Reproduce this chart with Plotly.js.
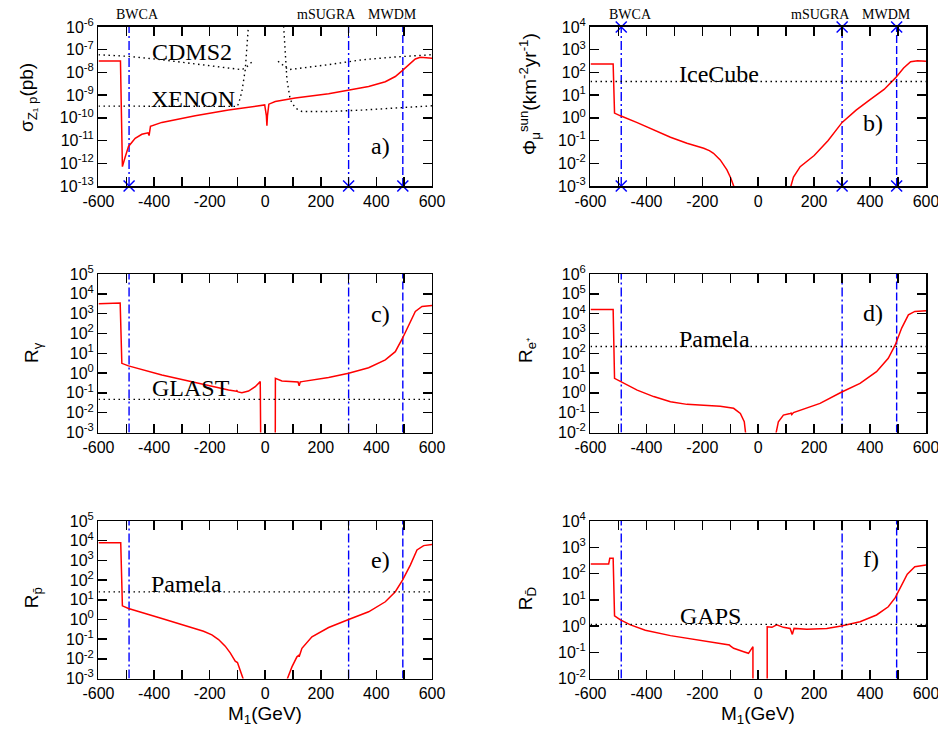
<!DOCTYPE html>
<html><head><meta charset="utf-8">
<script src="https://cdn.plot.ly/plotly-3.0.1.min.js"></script>
<style>html,body{margin:0;padding:0;background:#fff}#chart{width:938px;height:734px}</style>
</head><body><div id="chart"></div>
<script>
// ---------- data ----------
const xTickVals = [-600,-500,-400,-300,-200,-100,0,100,200,300,400,500,600];
const xTickText = ['-600','','-400','','-200','','0','','200','','400','','600'];

const benchX = [-490, 300, 495];
const benchNames = ['BWCA', 'mSUGRA', 'MWDM'];

// a) sigma_Z1p (pb)
const aX = [-600,-521,-514,-510,-504,-492,-468,-444,-422,-418,-413,-372,-252,-132,-12,-2,4,6,8,13,36,108,228,300,372,432,440,444,468,492,516,540,558,600];
const aY = [3.2e-8,3.2e-8,7.1e-13,1.1e-12,1.9e-12,5.5e-12,1.26e-11,1.9e-11,2.2e-11,1.66e-11,4.2e-11,6.3e-11,1.23e-10,2.2e-10,3.7e-10,3.7e-10,1.26e-10,4.5e-11,1.26e-10,4.0e-10,5.2e-10,7.4e-10,1.15e-9,1.62e-9,2.4e-9,3.9e-9,4.4e-9,5.0e-9,6.6e-9,1.17e-8,2.2e-8,3.9e-8,4.6e-8,4.2e-8];
const cdmsX = [-600,-492,-372,-252,-132,-84,-66,-45,null,46,84,228,348,468,600];
const cdmsY = [6.0e-8,5.1e-8,3.6e-8,2.3e-8,1.55e-8,1.32e-8,1.8e-8,3.1e-8,null,3.1e-8,1.32e-8,2.2e-8,3.6e-8,4.8e-8,6.0e-8];
const xenonX = [-600,-300,-100,-92,-84,-72,-66,-60,-58,null,64,66,72,78,90,108,132,228,348,468,600];
const xenonY = [3.3e-10,3.2e-10,3.2e-10,6.3e-10,1.45e-9,1.3e-8,1.4e-7,1.0e-6,3e-6,null,3e-6,1.0e-6,7.1e-8,4.8e-9,6.3e-10,2.7e-10,1.9e-10,1.9e-10,2.2e-10,2.7e-10,3.4e-10];

// b) muon flux from the sun
const bX = [-600,-519,-514,-493,-433,-374,-314,-255,-220,-195,-175,-160,-136,-112,-98,-88,-85,null,114,117,126,150,200,250,300,350,400,450,490,520,545,570,600];
const bY = [234,234,1.62,1.23,0.62,0.295,0.141,0.076,0.058,0.046,0.036,0.0275,0.0141,0.0051,0.0022,0.001,0.0005,null,0.0005,0.001,0.0025,0.0071,0.022,0.1,0.63,2.2,6.3,17.8,56,158,295,330,309];
const iceCube = 40;

// c) R_gamma
const cX = [-600,-530,-522,-516,-492,-372,-252,-132,-104,-102,-98,-84,-60,-36,-18,-16,null,36,36.5,60,108,118,122,126,132,228,300,372,432,468,494,516,540,564,600];
const cY = [3160,3160,3390,3.1,2.3,0.79,0.32,0.138,0.12,0.129,0.112,0.102,0.123,0.204,0.37,1e-4,null,1e-4,0.54,0.40,0.37,0.355,0.23,0.355,0.37,0.59,0.98,1.86,4.6,12,57.5,269,1290,2290,2570];
const glast = 0.047;

// d) R_e+
const dX = [-600,-519,-514,-493,-433,-374,-314,-255,-195,-136,-88,-64,-50,-44,-43,null,63,64,72,90,114,118,120,124,126,221,297,364,423,465,490,513,537,560,600];
const dY = [16200,16200,5.4,3.7,1.38,0.65,0.355,0.263,0.24,0.214,0.166,0.091,0.035,0.01,0.005,null,0.005,0.01,0.035,0.076,0.091,0.095,0.081,0.1,0.102,0.295,1.07,3.0,11.7,56,263,1860,8700,12900,13800];
const pamelaE = 220;

// e) R_pbar
const eX = [-600,-520,-514,-492,-372,-252,-222,-192,-168,-144,-126,-108,-100,-80,-78,null,78,80,96,114,120,122,124,132,168,228,300,372,432,468,494,522,546,570,600];
const eY = [7940,7940,4.9,3.6,1.12,0.347,0.25,0.166,0.095,0.044,0.02,0.0076,0.0065,0.001,0.0006,null,0.0006,0.001,0.0039,0.0126,0.0148,0.0126,0.0158,0.034,0.132,0.39,1.0,2.45,7.9,25.7,100,575,3390,5620,6460];
const pamelaP = 25;

// f) R_Dbar
const fX = [-600,-535,-531,-519,-514,-493,-457,-404,-314,-195,-106,-103,-100,-88,-52,-35,-23,-19,-19,null,32,32,49,66,90,114,122,128,174,245,297,364,423,465,490,513,533,560,600];
const fY = [229,229,380,380,2.45,1.7,1.1,0.69,0.43,0.27,0.2,0.19,0.174,0.141,0.105,0.091,0.141,0.162,0.001,null,0.001,0.93,0.89,1.1,0.89,0.81,0.48,0.81,0.76,0.81,1.0,1.45,2.63,5.4,12,36,95,182,209];
const gaps = 1.15;

// ---------- layout helpers ----------
const FS = 'Liberation Sans, Arial, Helvetica, sans-serif';
const FSERIF = 'Liberation Serif, Times New Roman, serif';
const colDom = [[0.10501, 0.46055], [0.62953, 0.98721]];
const rowDom = [[0.74659, 0.96322], [0.41076, 0.62670], [0.07561, 0.29019]];

const panels = [
  {x: aX, y: aY, exp: [-13, -6]},
  {x: bX, y: bY, exp: [-3, 4]},
  {x: cX, y: cY, exp: [-3, 5]},
  {x: dX, y: dY, exp: [-2, 6]},
  {x: eX, y: eY, exp: [-3, 5]},
  {x: fX, y: fY, exp: [-2, 4]}
];

const traces = [];
const layout = {
  width: 938, height: 734,
  margin: {l: 0, r: 0, t: 0, b: 0},
  paper_bgcolor: '#fff', plot_bgcolor: '#fff',
  showlegend: false,
  font: {family: FS, color: '#000'},
  annotations: []
};

function horiz(xa, ya, val) {
  traces.push({x: [-600, 600], y: [val, val], xaxis: xa, yaxis: ya, mode: 'lines',
    line: {color: '#000', width: 1.4, dash: '1.5px,3.5px'}, hoverinfo: 'skip'});
}

panels.forEach((p, i) => {
  const n = i + 1;
  const xa = 'x' + (n === 1 ? '' : n), ya = 'y' + (n === 1 ? '' : n);
  const col = i % 2, row = Math.floor(i / 2);
  const exps = [];
  for (let e = p.exp[0]; e <= p.exp[1]; e++) exps.push(e);
  const lo = Math.pow(10, p.exp[0]), hi = Math.pow(10, p.exp[1]);
  layout['xaxis' + (n === 1 ? '' : n)] = {
    domain: colDom[col], anchor: ya, range: [-600, 600],
    tickvals: xTickVals, ticktext: xTickText, ticklabeloverflow: 'allow',
    ticks: 'inside', ticklen: 9, tickwidth: 1.5, tickcolor: '#000',
    showline: true, linecolor: '#000', linewidth: 1.5, mirror: 'allticks',
    showgrid: false, zeroline: false,
    tickfont: {family: FS, size: 16, color: '#000'}
  };
  layout['yaxis' + (n === 1 ? '' : n)] = {
    domain: rowDom[row], anchor: xa, type: 'log', range: p.exp,
    tickvals: exps.map(e => Math.pow(10, e)),
    ticktext: exps.map(e => '10<sup>' + e + '</sup>'), ticklabeloverflow: 'allow',
    ticks: 'inside', ticklen: 9, tickwidth: 1.5, tickcolor: '#000',
    showline: true, linecolor: '#000', linewidth: 1.5, mirror: 'allticks',
    showgrid: false, zeroline: false,
    tickfont: {family: FS, size: 16, color: '#000'}
  };
  // benchmark vertical lines
  const dashes = ['9px,3px,2px,3px', '9px,3px,2px,3px', '8px,3px'];
  benchX.forEach((bx, k) => {
    traces.push({x: [bx, bx], y: [lo, hi], xaxis: xa, yaxis: ya, mode: 'lines',
      line: {color: '#0000ff', width: 1.4, dash: dashes[k]}, hoverinfo: 'skip'});
  });
  if (row === 0) {
    const mx = [], my = [];
    benchX.forEach(bx => { mx.push(bx, bx); my.push(lo, hi); });
    traces.push({x: mx, y: my, xaxis: xa, yaxis: ya, mode: 'markers', cliponaxis: false,
      marker: {symbol: 'x-thin-open', size: 11, color: '#0000ff', line: {color: '#0000ff', width: 1.5}},
      hoverinfo: 'skip'});
    benchNames.forEach((nm, k) => {
      layout.annotations.push({text: nm, xref: xa, yref: 'paper', x: [-458, 222, 457][k], y: 0.9796,
        showarrow: false, font: {family: FSERIF, size: 14, color: '#000'}, xanchor: 'center', yanchor: 'middle'});
    });
  }
  // main curve
  traces.push({x: p.x, y: p.y, xaxis: xa, yaxis: ya, mode: 'lines', connectgaps: false,
    line: {color: '#ff0000', width: 1.5}, hoverinfo: 'skip'});
});

// reference limits
traces.push({x: cdmsX, y: cdmsY, xaxis: 'x', yaxis: 'y', mode: 'lines', connectgaps: false,
  line: {color: '#000', width: 1.4, dash: '1.5px,3.5px'}, hoverinfo: 'skip'});
traces.push({x: xenonX, y: xenonY, xaxis: 'x', yaxis: 'y', mode: 'lines', connectgaps: false,
  line: {color: '#000', width: 1.4, dash: '1.5px,3.5px'}, hoverinfo: 'skip'});
horiz('x2', 'y2', iceCube);
horiz('x3', 'y3', glast);
horiz('x4', 'y4', pamelaE);
horiz('x5', 'y5', pamelaP);
horiz('x6', 'y6', gaps);

// in-plot labels (positions in axis units; log axes take log10)
const big = {family: FSERIF, size: 24, color: '#000'};
const lab = (t, xa, ya, x, y) => layout.annotations.push({text: t, xref: xa, yref: ya, x: x, y: y,
  showarrow: false, font: big, xanchor: 'center', yanchor: 'middle'});
lab('CDMS2', 'x', 'y', -265, -7.09);
lab('XENON', 'x', 'y', -260, -9.16);
lab('a)', 'x', 'y', 413, -11.22);
lab('IceCube', 'x2', 'y2', -140, 1.93);
lab('b)', 'x2', 'y2', 410, -0.23);
lab('GLAST', 'x3', 'y3', -267, -0.75);
lab('c)', 'x3', 'y3', 413, 2.98);
lab('Pamela', 'x4', 'y4', -156, 2.73);
lab('d)', 'x4', 'y4', 410, 4.03);
lab('Pamela', 'x5', 'y5', -282, 1.80);
lab('e)', 'x5', 'y5', 413, 3.02);
lab('GAPS', 'x6', 'y6', -172, 0.39);
lab('f)', 'x6', 'y6', 405, 2.55);

// axis titles
const tf = {family: FS, size: 19, color: '#000'};
const ytitle = (t, x, y) => layout.annotations.push({text: t, xref: 'paper', yref: 'paper', x: x, y: y,
  textangle: -90, showarrow: false, font: tf, xanchor: 'center', yanchor: 'middle'});
ytitle('σ<sub>Z₁ p</sub>(pb)', 0.0299, 0.8665);
ytitle('Φ<sub>μ</sub><sup>sun</sup>(km<sup>-2</sup>yr<sup>-1</sup>)', 0.565, 0.872);
ytitle('R<sub>γ</sub>', 0.0352, 0.519);
ytitle('R<sub>e⁺</sub>', 0.5618, 0.523);
ytitle('R<sub>p̄</sub>', 0.0352, 0.185);
ytitle('R<sub>D̄</sub>', 0.5618, 0.185);
const xtitle = (x) => layout.annotations.push({text: 'M<sub>1</sub>(GeV)', xref: 'paper', yref: 'paper',
  x: x, y: 0.0259, showarrow: false, font: tf, xanchor: 'center', yanchor: 'middle'});
xtitle(0.2825);
xtitle(0.808);

Plotly.newPlot('chart', traces, layout, {staticPlot: true, displayModeBar: false});
</script>
</body></html>
